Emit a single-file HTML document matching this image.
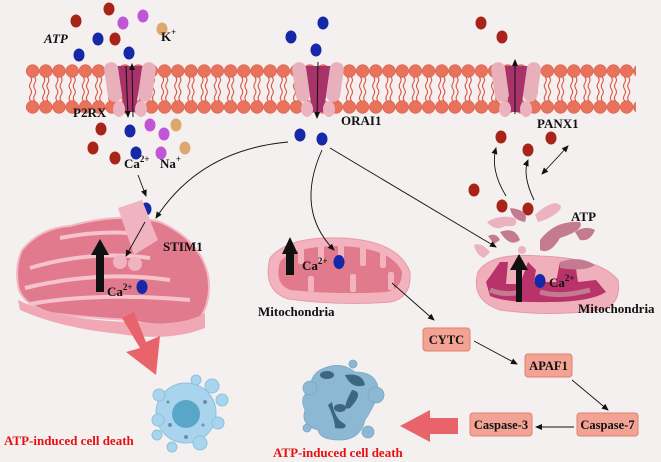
<!DOCTYPE html>
<html><head><meta charset="utf-8"><style>
html,body{margin:0;padding:0;background:#f5f0f0;}
svg{display:block;font-family:"Liberation Serif",serif;}
</style></head><body>
<svg width="661" height="462" viewBox="0 0 661 462" xmlns="http://www.w3.org/2000/svg">
<defs>
<pattern id="lip" x="26" y="64" width="13.2" height="50" patternUnits="userSpaceOnUse">
<circle cx="6.6" cy="7" r="6.3" fill="#e8725c" stroke="#d65a45" stroke-width="0.6"/>
<circle cx="6.6" cy="43" r="6.3" fill="#e8725c" stroke="#d65a45" stroke-width="0.6"/>
<path d="M4.5 13 q2 3 0 6 q-2 3 0 6 M8.7 13 q2 3 0 6 q-2 3 0 6 M4.5 25 q2 3 0 6 q-2 3 0 6 M8.7 25 q2 3 0 6 q-2 3 0 6" stroke="#d9402e" stroke-width="1" fill="none"/>
</pattern>
<marker id="ah" markerWidth="8" markerHeight="8" refX="6" refY="3" orient="auto" markerUnits="userSpaceOnUse"><path d="M0 0 L7 3 L0 6 Z" fill="#111"/></marker>
<marker id="as" markerWidth="8" markerHeight="8" refX="1" refY="3" orient="auto" markerUnits="userSpaceOnUse"><path d="M7 0 L0 3 L7 6 Z" fill="#111"/></marker>
</defs>
<rect width="661" height="462" fill="#f5f0f0"/>
<rect x="26" y="64" width="610" height="50" fill="url(#lip)"/>
<g>
<path d="M117 66 L143 66 L135 112 L125 112 Z" fill="#a8336a"/>
<rect x="106" y="62" width="14" height="40" rx="7" fill="#e8b0bb" transform="rotate(-8 113 82)"/>
<rect x="140" y="62" width="14" height="40" rx="7" fill="#e8b0bb" transform="rotate(8 147 82)"/>
<ellipse cx="119" cy="109" rx="6" ry="8" fill="#eab3bf"/><ellipse cx="141" cy="109" rx="6" ry="8" fill="#eab3bf"/>
<line x1="126" y1="66" x2="128" y2="117" stroke="#111" stroke-width="1" marker-end="url(#ah)"/>
<line x1="133" y1="117" x2="132" y2="64" stroke="#111" stroke-width="1" marker-end="url(#ah)"/>
</g>
<g>
<path d="M304 66 L332 66 L323 112 L313 112 Z" fill="#a8336a"/>
<rect x="294" y="62" width="14" height="40" rx="7" fill="#e8b0bb" transform="rotate(-8 301 82)"/>
<rect x="328" y="62" width="14" height="40" rx="7" fill="#e8b0bb" transform="rotate(8 335 82)"/>
<ellipse cx="307" cy="109" rx="6" ry="8" fill="#eab3bf"/><ellipse cx="329" cy="109" rx="6" ry="8" fill="#eab3bf"/>
<line x1="318" y1="62" x2="317" y2="118" stroke="#111" stroke-width="1" marker-end="url(#ah)"/>
</g>
<g>
<path d="M502 66 L528 66 L520 112 L510 112 Z" fill="#a8336a"/>
<rect x="493" y="62" width="14" height="40" rx="7" fill="#e8b0bb" transform="rotate(-8 500 82)"/>
<rect x="525" y="62" width="14" height="40" rx="7" fill="#e8b0bb" transform="rotate(8 532 82)"/>
<ellipse cx="505" cy="109" rx="6" ry="8" fill="#eab3bf"/><ellipse cx="526" cy="109" rx="6" ry="8" fill="#eab3bf"/>
<line x1="515" y1="114" x2="515" y2="60" stroke="#111" stroke-width="1" marker-end="url(#ah)"/>
</g>
<g fill="#a82418">
<ellipse cx="76" cy="21" rx="5.5" ry="6.5"/><ellipse cx="109" cy="9" rx="5.5" ry="6.5"/><ellipse cx="115" cy="39" rx="5.5" ry="6.5"/>
<ellipse cx="101" cy="129" rx="5.5" ry="6.5"/><ellipse cx="93" cy="148" rx="5.5" ry="6.5"/><ellipse cx="115" cy="158" rx="5.5" ry="6.5"/>
<ellipse cx="481" cy="23" rx="5.5" ry="6.5"/><ellipse cx="502" cy="37" rx="5.5" ry="6.5"/>
<ellipse cx="501" cy="137" rx="5.5" ry="6.5"/><ellipse cx="528" cy="150" rx="5.5" ry="6.5"/><ellipse cx="551" cy="138" rx="5.5" ry="6.5"/>
<ellipse cx="474" cy="190" rx="5.5" ry="6.5"/><ellipse cx="502" cy="206" rx="5.5" ry="6.5"/><ellipse cx="528" cy="209" rx="5.5" ry="6.5"/>
</g>
<g fill="#c055d8">
<ellipse cx="123" cy="23" rx="5.5" ry="6.5"/><ellipse cx="143" cy="16" rx="5.5" ry="6.5"/>
<ellipse cx="150" cy="125" rx="5.5" ry="6.5"/><ellipse cx="164" cy="134" rx="5.5" ry="6.5"/><ellipse cx="161" cy="153" rx="5.5" ry="6.5"/>
</g>
<g fill="#dca86e">
<ellipse cx="162" cy="29" rx="5.5" ry="6.5"/><ellipse cx="176" cy="125" rx="5.5" ry="6.5"/><ellipse cx="185" cy="148" rx="5.5" ry="6.5"/>
</g>
<g fill="#1428a8">
<ellipse cx="98" cy="39" rx="5.5" ry="6.5"/><ellipse cx="79" cy="55" rx="5.5" ry="6.5"/><ellipse cx="129" cy="53" rx="5.5" ry="6.5"/>
<ellipse cx="130" cy="131" rx="5.5" ry="6.5"/><ellipse cx="136" cy="153" rx="5.5" ry="6.5"/><ellipse cx="146" cy="209" rx="5.5" ry="6.5"/>
<ellipse cx="291" cy="37" rx="5.5" ry="6.5"/><ellipse cx="323" cy="23" rx="5.5" ry="6.5"/><ellipse cx="316" cy="50" rx="5.5" ry="6.5"/>
<ellipse cx="300" cy="135" rx="5.5" ry="6.5"/><ellipse cx="322" cy="139" rx="5.5" ry="6.5"/>
</g>
<!-- ER -->
<g>
<path d="M22 250 Q40 228 70 226 Q120 212 160 222 Q200 240 208 275 Q212 300 200 318 Q160 330 130 320 Q90 318 50 313 Q20 303 18 285 Q15 265 22 250 Z" fill="#e07a8c" stroke="#f2b8c3" stroke-width="2"/>
<path d="M30 268 Q90 250 150 258 M25 288 Q100 270 170 280 M30 304 Q100 292 190 300 M60 238 Q110 228 150 236" stroke="#f5c3cc" stroke-width="4" fill="none"/>
<path d="M18 300 Q60 320 130 322 Q180 328 205 313 L205 328 Q170 342 120 334 Q60 328 20 310 Z" fill="#f0a8b5"/>
<path d="M122 318 L134 312 L146 342 L160 336 L156 375 L126 352 L140 348 Z" fill="#e8646a"/>
<path d="M118 208 L142 200 L158 240 L134 255 Z" fill="#f0b3c0"/>
<circle cx="120" cy="262" r="7" fill="#f0b3c0"/><circle cx="135" cy="264" r="7" fill="#f0b3c0"/>
<path d="M96 255 L104 255 L104 292 L96 292 Z M91 255 L100 239 L109 255 Z" fill="#111"/>
<ellipse cx="142" cy="287" rx="5.5" ry="7" fill="#1428a8"/>
</g>
<g fill="#a9d4ee" stroke="#8fc0de" stroke-width="1">
<circle cx="186" cy="413" r="30"/>
<circle cx="159" cy="395" r="6"/><circle cx="196" cy="380" r="5"/><circle cx="212" cy="386" r="7"/><circle cx="222" cy="400" r="6"/>
<circle cx="218" cy="423" r="6"/><circle cx="200" cy="443" r="7"/><circle cx="172" cy="447" r="5"/><circle cx="158" cy="420" r="6"/><circle cx="157" cy="435" r="5"/>
</g>
<circle cx="186" cy="414" r="14" fill="#5aa6c8"/>
<g fill="#6d8fa8"><circle cx="168" cy="402" r="1.5"/><circle cx="205" cy="402" r="2"/><circle cx="170" cy="425" r="2"/><circle cx="203" cy="425" r="1.5"/><circle cx="186" cy="437" r="2"/></g>
<g>
<path d="M270 258 Q288 236 340 238 Q398 240 410 272 Q412 298 390 302 Q340 306 288 299 Q262 290 270 258 Z" fill="#f2b3be" stroke="#e89aa8"/>
<path d="M280 262 Q292 246 340 246 Q392 248 402 272 Q402 290 385 292 Q340 295 290 290 Q274 284 280 262 Z" fill="#e07a8c"/>
<g fill="#f2b3be">
<rect x="298" y="244" width="6" height="20" rx="2"/><rect x="318" y="244" width="6" height="18" rx="2"/>
<rect x="338" y="244" width="6" height="16" rx="2"/><rect x="360" y="246" width="6" height="20" rx="2"/>
<rect x="380" y="250" width="6" height="18" rx="2"/>
<rect x="308" y="276" width="6" height="16" rx="2"/><rect x="350" y="274" width="6" height="18" rx="2"/><rect x="388" y="272" width="6" height="18" rx="2"/>
</g>
<path d="M286 252 L294 252 L294 275 L286 275 Z M282 254 L290 237 L298 254 Z" fill="#111"/>
<ellipse cx="339" cy="262" rx="5.5" ry="7" fill="#1428a8"/>
</g>
<g>
<path d="M478 272 Q490 252 540 256 Q600 258 618 280 Q622 305 600 310 Q550 317 500 310 Q470 300 478 272 Z" fill="#f0b0bb" stroke="#e49aa8"/>
<path d="M486 282 L500 262 L508 262 L506 284 L520 284 L528 262 L536 270 L534 282 L556 282 L560 262 L575 262 L578 282 L596 280 L606 292 Q590 302 550 302 Q505 303 490 296 Z" fill="#b8336a"/>
<path d="M490 290 Q505 296 520 292 M540 292 Q560 298 590 290" stroke="#c47a90" stroke-width="5" fill="none"/>
<g fill="#c47a90">
<path d="M500 232 Q515 226 520 240 Q510 248 500 232Z"/><path d="M510 208 Q530 210 525 222 Q512 220 510 208Z"/>
<path d="M540 240 Q555 220 580 222 Q585 230 560 238 Q550 255 540 250Z"/><path d="M575 232 Q585 225 595 230 Q590 242 580 240Z"/>
<path d="M560 262 Q580 255 595 265 Q585 272 560 268Z"/><path d="M488 236 Q496 232 500 240 L494 244Z"/>
</g>
<g fill="#eab3bf">
<path d="M487 222 Q500 214 515 218 Q520 228 505 226 Q495 232 487 222Z"/><path d="M535 215 Q545 205 555 203 Q565 205 558 212 Q548 220 538 222Z"/>
<path d="M474 245 Q482 242 490 252 L484 258 Q476 255 474 245Z"/><circle cx="522" cy="250" r="4"/>
</g>
<path d="M516 268 L522 268 L522 302 L516 302 Z M510 270 L519 254 L528 270 Z" fill="#111"/>
<ellipse cx="540" cy="281" rx="5.5" ry="7" fill="#1428a8"/>
</g>
<g fill="#8cb8d4" stroke="#7aa8c6" stroke-width="0.8">
<path d="M320 370 Q340 360 355 372 Q380 372 378 395 Q372 410 365 420 Q360 440 340 440 Q320 440 318 430 Q300 425 305 410 Q298 395 312 390 Q308 378 320 370Z"/>
<circle cx="310" cy="388" r="7"/><circle cx="376" cy="395" r="8"/><circle cx="368" cy="432" r="6"/><circle cx="353" cy="364" r="4"/><circle cx="307" cy="428" r="4"/>
</g>
<g fill="#3d6680">
<path d="M345 375 Q362 372 365 385 Q352 390 345 375Z"/><path d="M352 390 Q365 392 350 408 Q340 412 352 390Z"/>
<path d="M328 405 Q335 420 335 428 Q348 430 345 424 Q335 420 332 402Z"/><ellipse cx="340" cy="408" rx="6" ry="4"/><ellipse cx="327" cy="375" rx="7" ry="4"/>
</g>
<path d="M458 418 L430 418 L430 410 L400 426 L430 442 L430 434 L458 434 Z" fill="#e8646a"/>
<g fill="#f2a394" stroke="#e0806e" stroke-width="1">
<rect x="423" y="328" width="47" height="23" rx="3"/>
<rect x="525" y="354" width="47" height="23" rx="3"/>
<rect x="577" y="413" width="61" height="23" rx="3"/>
<rect x="470" y="413" width="62" height="23" rx="3"/>
</g>
<g font-weight="bold" font-size="12.5" fill="#111" text-anchor="middle">
<text x="446.5" y="344">CYTC</text><text x="548.5" y="370">APAF1</text>
<text x="607.5" y="429">Caspase-7</text><text x="501" y="429">Caspase-3</text>
</g>
<g font-weight="bold" fill="#111" font-size="13">
<text x="44" y="43" font-style="italic">ATP</text>
<text x="161" y="41">K<tspan dy="-6" font-size="9">+</tspan></text>
<text x="73" y="117">P2RX</text>
<text x="124" y="168">Ca<tspan dy="-6" font-size="9">2+</tspan></text>
<text x="160" y="168">Na<tspan dy="-6" font-size="9">+</tspan></text>
<text x="341" y="125">ORAI1</text>
<text x="537" y="128">PANX1</text>
<text x="571" y="221">ATP</text>
<text x="163" y="251">STIM1</text>
<text x="107" y="296">Ca<tspan dy="-6" font-size="9">2+</tspan></text>
<text x="302" y="270">Ca<tspan dy="-6" font-size="9">2+</tspan></text>
<text x="258" y="316">Mitochondria</text>
<text x="549" y="287">Ca<tspan dy="-6" font-size="9">2+</tspan></text>
<text x="578" y="313">Mitochondria</text>
</g>
<g font-weight="bold" font-size="13" fill="#e81010">
<text x="4" y="445">ATP-induced cell death</text>
<text x="273" y="457">ATP-induced cell death</text>
</g>
<g stroke="#111" stroke-width="0.9" fill="none" marker-end="url(#ah)">
<path d="M288 142 Q200 150 156 218"/>
<path d="M322 150 Q295 210 334 250"/>
<path d="M330 148 L496 247"/>
<path d="M138 175 L146 196"/>
<path d="M145 222 L126 256"/>
<path d="M392 283 L434 320"/>
<path d="M474 341 L517 364"/>
<path d="M572 380 L608 410"/>
<path d="M574 427 L536 427"/>
<path d="M506 196 Q490 170 496 148"/>
<path d="M534 200 Q522 175 528 160"/>
<path d="M542 174 L568 146" marker-start="url(#as)"/>
</g>
</svg>
</body></html>
